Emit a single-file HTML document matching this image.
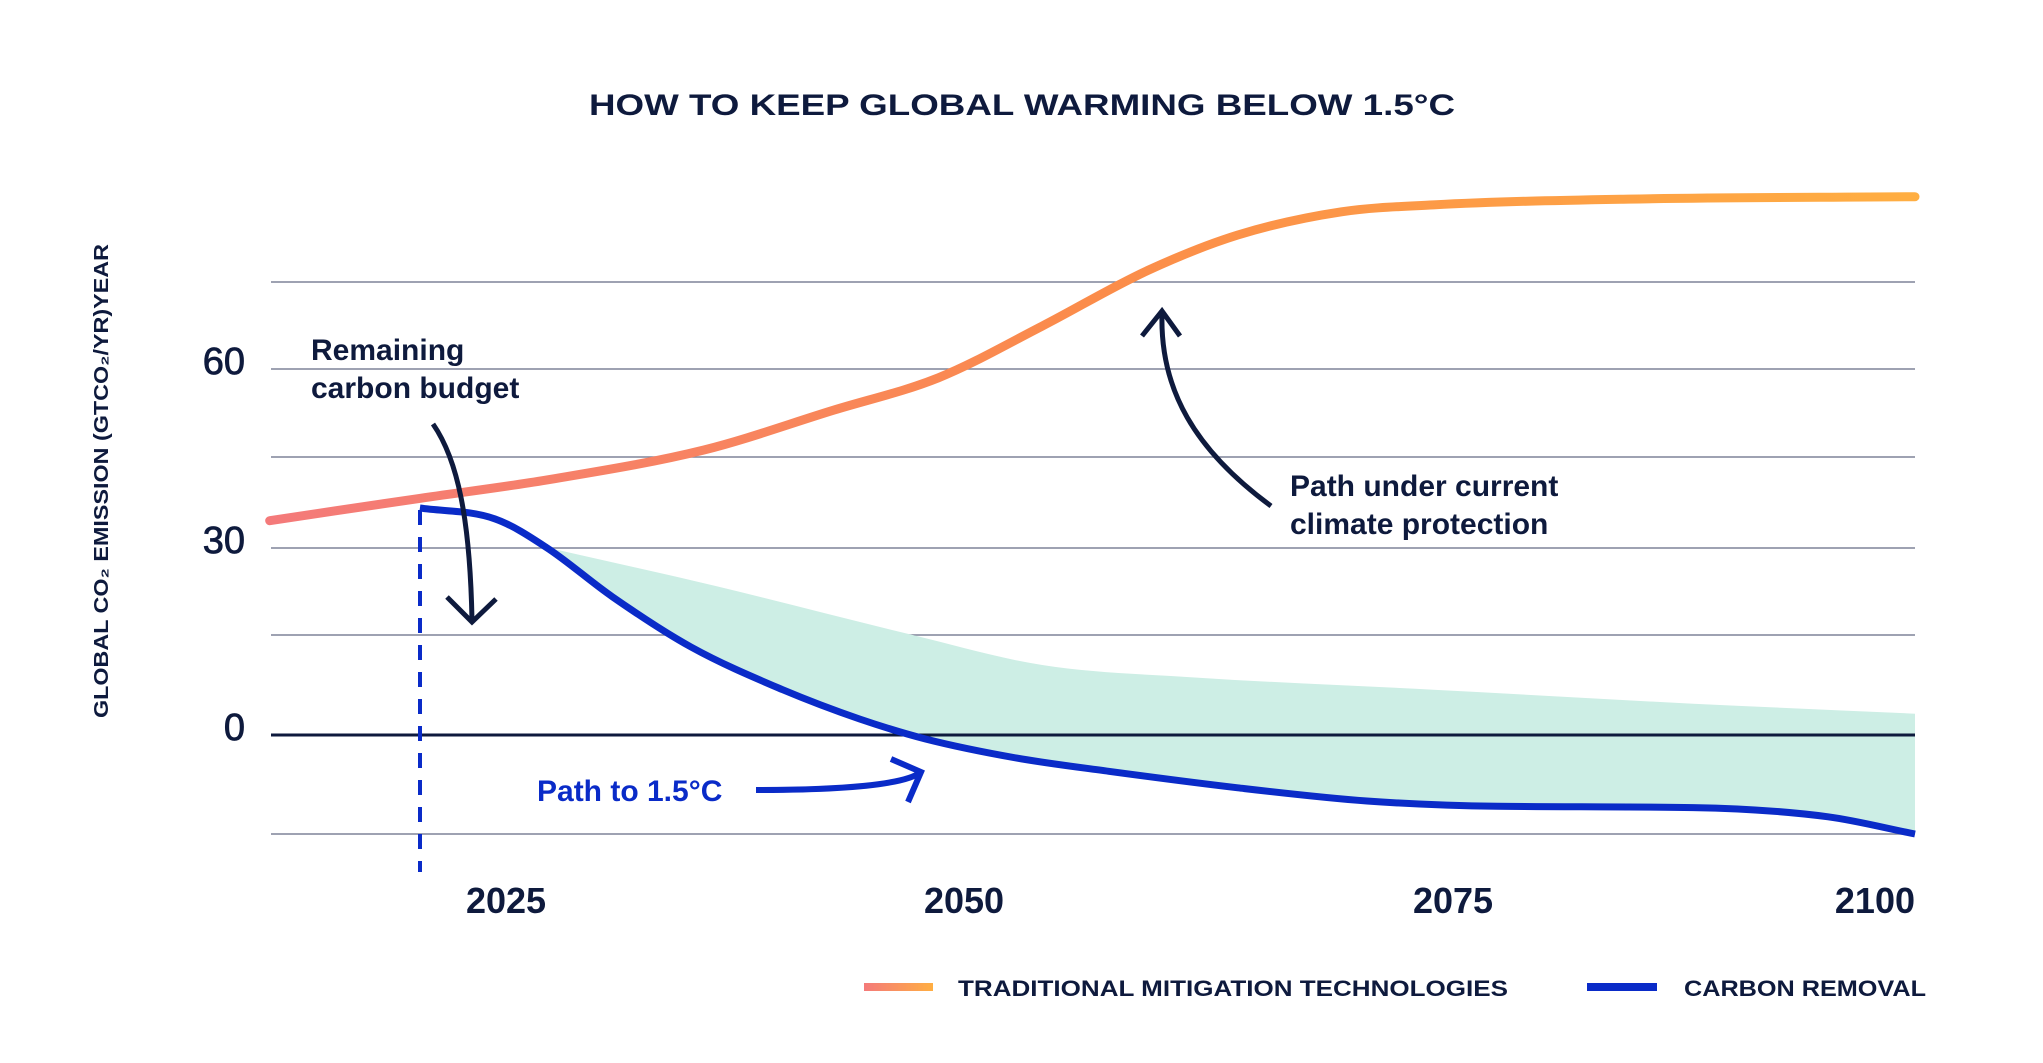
<!DOCTYPE html>
<html><head><meta charset="utf-8"><style>
html,body{margin:0;padding:0;background:#fff;}
svg{display:block;font-family:"Liberation Sans",sans-serif;}
</style></head><body>
<svg id="chart" width="2043" height="1063" viewBox="0 0 2043 1063" xmlns="http://www.w3.org/2000/svg">
<defs>
<linearGradient id="og" gradientUnits="userSpaceOnUse" x1="270" y1="0" x2="1915" y2="0">
<stop offset="0" stop-color="#f47a7a"/><stop offset="0.5" stop-color="#fb8c4a"/><stop offset="1" stop-color="#ffae42"/></linearGradient>
<linearGradient id="lg" gradientUnits="userSpaceOnUse" x1="864" y1="0" x2="933" y2="0"><stop offset="0" stop-color="#f47a7a"/><stop offset="1" stop-color="#ffae42"/></linearGradient>
</defs>
<text x="1022" y="115" text-anchor="middle" font-size="30" font-weight="bold" fill="#0e1a3d" textLength="866" lengthAdjust="spacingAndGlyphs">HOW TO KEEP GLOBAL WARMING BELOW 1.5°C</text>
<text transform="translate(108,481) rotate(-90)" text-anchor="middle" font-size="20" font-weight="bold" fill="#0e1a3d" textLength="474" lengthAdjust="spacingAndGlyphs">GLOBAL CO₂ EMISSION (GTCO₂/YR)YEAR</text>
<g id="grid"></g>
<g id="marks"></g>
<g id="labels"></g>
<line x1="420" y1="510" x2="420" y2="872" stroke="#0a2bc8" stroke-width="4" stroke-dasharray="15,12"/>
<text font-size="30" font-weight="bold" fill="#0e1a3d"><tspan x="311" y="360">Remaining</tspan><tspan x="311" y="398">carbon budget</tspan></text>
<g fill="none" stroke="#0e1a3d" stroke-width="5">
<path d="M433,424 C458,460 470,520 472,620"/><path d="M447,597 L472,622 L496,599"/></g>
<text font-size="30" font-weight="bold" fill="#0e1a3d"><tspan x="1290" y="496">Path under current</tspan><tspan x="1290" y="534">climate protection</tspan></text>
<g fill="none" stroke="#0e1a3d" stroke-width="5">
<path d="M1271,506 C1195,450 1160,390 1162,314"/><path d="M1142,336 L1162,311 L1180,336"/></g>
<text x="537" y="801" font-size="30" font-weight="bold" fill="#0a2bc8">Path to 1.5°C</text>
<g fill="none" stroke="#0a2bc8" stroke-width="6">
<path d="M756,790 C840,790 905,785 921,772"/><path d="M891,759 L921,772 L908,802"/></g>
<g>
<rect x="864" y="983" width="69" height="8" fill="url(#lg)"/>
<text x="958" y="996" font-size="22" font-weight="bold" fill="#0e1a3d" textLength="550" lengthAdjust="spacingAndGlyphs">TRADITIONAL MITIGATION TECHNOLOGIES</text>
<rect x="1587" y="983" width="70" height="8" fill="#0a2bc8"/>
<text x="1684" y="996" font-size="22" font-weight="bold" fill="#0e1a3d" textLength="242" lengthAdjust="spacingAndGlyphs">CARBON REMOVAL</text>
</g>
</svg>
<script>
const gridValues = [75, 60, 45, 30, 15, -15];
const yTickLabels = [60, 30, 0];
const xTickLabels = [2025, 2050, 2075, 2100];
const tradYears = [2012.1, 2020.1, 2027.2, 2035.8, 2042.9, 2048.6, 2054, 2059.4, 2064, 2069.3, 2074, 2084.5, 2100];
const tradValues = [34.5, 38.1, 41.2, 46.2, 53, 58.5, 67.4, 77, 83.1, 87.1, 88.3, 89.3, 89.7];
const removalYears = [2020.3, 2024.4, 2027.2, 2030.8, 2035.1, 2040.1, 2044.3, 2047.9, 2052.7, 2057.4, 2064, 2070.6, 2077.4, 2088, 2095.3, 2100];
const removalValues = [36.6, 34.8, 30.1, 21.6, 13.2, 6.8, 2.4, -0.6, -3.5, -5.5, -8, -10, -10.8, -11, -12.4, -15];
const gapYears = [2027.2, 2036.5, 2047.2, 2054, 2062, 2074, 2088, 2100];
const gapValues = [30.1, 23.4, 15, 10.5, 8.6, 6.8, 4.7, 3.2];

const NS = 'http://www.w3.org/2000/svg';
const yK = [-15, 0, 15, 30, 45, 60, 75], yP = [834, 735, 635, 548, 457, 369, 282];
const xK = [2025, 2050, 2075, 2100], xP = [506, 964, 1453, 1915];
function interp(v, K, P) {
  let i = 0;
  if (v <= K[0]) i = 0; else if (v >= K[K.length - 1]) i = K.length - 2;
  else { while (v > K[i + 1]) i++; }
  return P[i] + (v - K[i]) * (P[i + 1] - P[i]) / (K[i + 1] - K[i]);
}
const y = v => interp(v, yK, yP);
const x = v => interp(v, xK, xP);
// monotone cubic (Fritsch-Carlson) path through pixel points sorted by x
function smooth(pts, rev) {
  const n = pts.length, xs = pts.map(p => p[0]), ys = pts.map(p => p[1]);
  const d = [], m = [];
  for (let i = 0; i < n - 1; i++) d.push((ys[i + 1] - ys[i]) / (xs[i + 1] - xs[i]));
  m[0] = d[0]; m[n - 1] = d[n - 2];
  for (let i = 1; i < n - 1; i++) m[i] = (d[i - 1] * d[i] <= 0) ? 0 : (d[i - 1] + d[i]) / 2;
  for (let i = 0; i < n - 1; i++) {
    if (d[i] === 0) { m[i] = m[i + 1] = 0; continue; }
    const a = m[i] / d[i], b = m[i + 1] / d[i], s = a * a + b * b;
    if (s > 9) { const t = 3 / Math.sqrt(s); m[i] = t * a * d[i]; m[i + 1] = t * b * d[i]; }
  }
  const segs = [];
  for (let i = 0; i < n - 1; i++) {
    const h = xs[i + 1] - xs[i];
    segs.push([[xs[i], ys[i]], [xs[i] + h / 3, ys[i] + m[i] * h / 3], [xs[i + 1] - h / 3, ys[i + 1] - m[i + 1] * h / 3], [xs[i + 1], ys[i + 1]]]);
  }
  const f = p => p[0].toFixed(1) + ',' + p[1].toFixed(1);
  if (!rev) return 'M' + f(segs[0][0]) + segs.map(s => ' C' + f(s[1]) + ' ' + f(s[2]) + ' ' + f(s[3])).join('');
  const r = segs.slice().reverse();
  return ' L' + f(r[0][3]) + r.map(s => ' C' + f(s[2]) + ' ' + f(s[1]) + ' ' + f(s[0])).join('');
}
const grid = document.getElementById('grid');
gridValues.forEach(v => {
  const l = document.createElementNS(NS, 'line');
  
  
  l.setAttribute('x1', 271); l.setAttribute('x2', 1915);
  l.setAttribute('y1', y(v)); l.setAttribute('y2', y(v));
  l.setAttribute('stroke', '#7f8399'); l.setAttribute('stroke-width', 1.5);
  grid.appendChild(l);
});
const marks = document.getElementById('marks');
const rPts = removalYears.map((yr, i) => [x(yr), y(removalValues[i])]);
const gPts = gapYears.map((yr, i) => [x(yr), y(gapValues[i])]);
const rFromGap = rPts.filter(p => p[0] >= gPts[0][0]);
const fill = document.createElementNS(NS, 'path');


fill.setAttribute('d', smooth(gPts) + smooth(rFromGap, true) + ' Z');
fill.setAttribute('fill', '#cdeee5');
marks.appendChild(fill);
const zero = document.createElementNS(NS, 'line');


zero.setAttribute('x1', 271); zero.setAttribute('x2', 1915);
zero.setAttribute('y1', y(0)); zero.setAttribute('y2', y(0));
zero.setAttribute('stroke', '#0e1a3d'); zero.setAttribute('stroke-width', 3);
marks.appendChild(zero);
const trad = document.createElementNS(NS, 'path');


trad.setAttribute('d', smooth(tradYears.map((yr, i) => [x(yr), y(tradValues[i])])));
trad.setAttribute('fill', 'none'); trad.setAttribute('stroke', 'url(#og)');
trad.setAttribute('stroke-width', 9); trad.setAttribute('stroke-linecap', 'round');
marks.appendChild(trad);
const rem = document.createElementNS(NS, 'path');


rem.setAttribute('d', smooth(rPts));
rem.setAttribute('fill', 'none'); rem.setAttribute('stroke', '#0a2bc8');
rem.setAttribute('stroke-width', 7);
marks.appendChild(rem);
const labels = document.getElementById('labels');
yTickLabels.forEach(v => {
  const t = document.createElementNS(NS, 'text');
  
  
  t.setAttribute('x', 245); t.setAttribute('y', y(v) + 5);
  t.setAttribute('text-anchor', 'end'); t.setAttribute('font-size', 38);
  t.setAttribute('fill', '#0e1a3d');
  t.setAttribute('stroke', '#0e1a3d'); t.setAttribute('stroke-width', 0.8);
  t.textContent = v;
  labels.appendChild(t);
});
xTickLabels.forEach((v, i) => {
  const t = document.createElementNS(NS, 'text');
  
  
  const last = i === xTickLabels.length - 1;
  t.setAttribute('x', x(v));
  t.setAttribute('y', 913);
  t.setAttribute('text-anchor', last ? 'end' : 'middle');
  t.setAttribute('font-size', 36); t.setAttribute('font-weight', 'bold');
  t.setAttribute('fill', '#0e1a3d');
  t.textContent = v;
  labels.appendChild(t);
});
</script>
</body></html>
